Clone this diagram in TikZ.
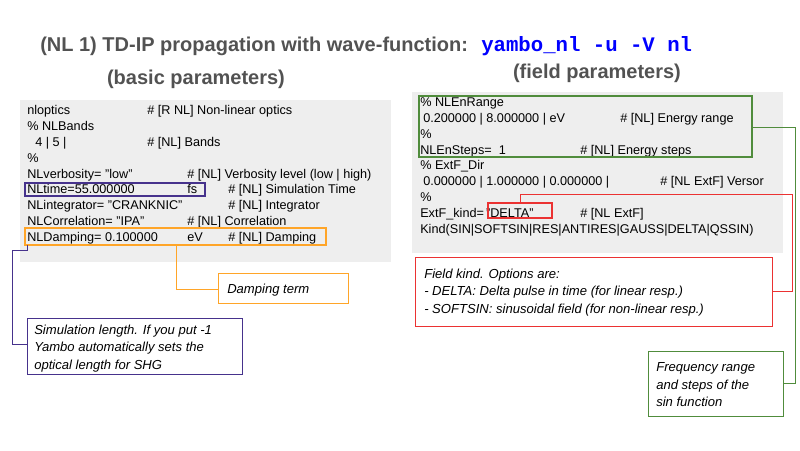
\documentclass[tikz,border=0pt]{standalone}
\usepackage{fontspec}
\setmainfont{Liberation Sans}
\setmonofont{Liberation Mono}
\begin{document}
\begin{tikzpicture}[x=0.75pt,y=-0.75pt,
  t/.style={anchor=base west,inner sep=0pt,font=\fontsize{9.5}{11}\selectfont},
  note/.style={anchor=base west,inner sep=0pt,font=\fontsize{9.8}{11}\selectfont\itshape},
  ttl/.style={inner sep=0pt,font=\fontsize{15}{17}\selectfont\bfseries,text=black!68},
  nbox/.style={draw,line width=0.8pt,fill=white}]
\definecolor{gbg}{RGB}{238,238,238}
\definecolor{pur}{RGB}{70,50,140}
\definecolor{org}{RGB}{255,165,40}
\definecolor{grn}{RGB}{80,140,60}
\definecolor{rd}{RGB}{235,50,50}
\useasboundingbox (0,0) rectangle (800,450);
% titles
\node[ttl,anchor=base west] (title) at (40,51) {(NL 1) TD-IP propagation with wave-function:};
\node[anchor=base west,inner sep=0pt,font=\fontsize{15.5}{17}\selectfont\ttfamily\bfseries,text=blue] (cmd) at (481,51) {yambo\_nl -u -V nl};
\node[ttl,anchor=base] (basic) at (196,84) {(basic parameters)};
\node[ttl,anchor=base] (field) at (597,78) {(field parameters)};
% left gray
\fill[gbg] (20,100) rectangle (391,262);
\def\b{4}
\node[t] (l1) at (27,110+\b) {nloptics};
\node[t] (l1c) at (147,110+\b) {\# [R NL] Non-linear optics};
\node[t] (l2) at (27,126+\b) {\% NLBands};
\node[t] (l3) at (35,142+\b) {4 | 5 |};
\node[t] (l3c) at (147,142+\b) {\# [NL] Bands};
\node[t] (l4) at (27,158+\b) {\%};
\node[t] (l5) at (27,174+\b) {NLverbosity= "low"};
\node[t] (l5c) at (187,174+\b) {\# [NL] Verbosity level (low | high)};
\node[t] (l6) at (27,189+\b) {NLtime=55.000000};
\node[t] (l6u) at (187,189+\b) {fs};
\node[t] (l6c) at (228,189+\b) {\# [NL] Simulation Time};
\node[t] (l7) at (27,205+\b) {NLintegrator= "CRANKNIC"};
\node[t] (l7c) at (228,205+\b) {\# [NL] Integrator};
\node[t] (l8) at (27,221+\b) {NLCorrelation= "IPA"};
\node[t] (l8c) at (187,221+\b) {\# [NL] Correlation};
\node[t] (l9) at (27,237+\b) {NLDamping= 0.100000};
\node[t] (l9u) at (187,237+\b) {eV};
\node[t] (l9c) at (228,237+\b) {\# [NL] Damping};
\draw[pur,line width=0.9pt] (25,183) rectangle (205,196);
\draw[org,line width=0.9pt] (25,228) rectangle (326,245);
\coordinate (obot) at (176,245);
\coordinate (ptop) at (27,245);
% damping note
\draw[org] (218,273) rectangle (348,303);
\node[note] (damp) at (227,293) {Damping term};
\draw[org] (obot) |- (218,289);
% simulation note
\draw[pur] (27,318) rectangle (242,374);
\node[note] (s1) at (34,334) {Simulation length. If you put -1};
\node[note] (s2) at (34,351) {Yambo automatically sets the};
\node[note] (s3) at (34,369) {optical length for SHG};
\draw[pur] (ptop) -- (27,250) -- (12,250) -- (12,344) -- (27,344);
% right gray
\fill[gbg] (412,92) rectangle (783,253);
\node[t] (r1) at (420,102+\b) {\% NLEnRange};
\node[t] (r2) at (423,118+\b) {0.200000 | 8.000000 | eV};
\node[t] (r2c) at (620,118+\b) {\# [NL] Energy range};
\node[t] (r3) at (420,134+\b) {\%};
\node[t] (r4) at (420,150+\b) {NLEnSteps=\ \ 1};
\node[t] (r4c) at (580,150+\b) {\# [NL] Energy steps};
\node[t] (r5) at (420,165+\b) {\% ExtF\_Dir};
\node[t] (r6) at (423,181+\b) {0.000000 | 1.000000 | 0.000000 |};
\node[t] (r6c) at (660,181+\b) {\# [NL ExtF] Versor};
\node[t] (r7) at (420,197+\b) {\%};
\node[t] (r8) at (420,213+\b) {ExtF\_kind=\,"DELTA"};
\node[t] (r8c) at (580,213+\b) {\# [NL ExtF]};
\node[t] (r9) at (420,229+\b) {Kind(SIN|SOFTSIN|RES|ANTIRES|GAUSS|DELTA|QSSIN)};
\draw[grn,line width=0.9pt] (419,96) rectangle (752,157);
\draw[rd,line width=0.9pt] (488,203) rectangle (552,218);
% red note
\draw[rd] (415,257) rectangle (772,326);
\node[note] (f1) at (424,278) {Field kind. Options are:};
\node[note] (f2) at (424,295) {- DELTA: Delta pulse in time (for linear resp.)};
\node[note] (f3) at (424,313) {- SOFTSIN: sinusoidal field (for non-linear resp.)};
\draw[rd] (520,203) -- (520,194) -- (792,194) -- (792,291) -- (772,291);
% green note
\draw[grn] (648,351) rectangle (783,416);
\node[note] (g1) at (656,371) {Frequency range};
\node[note] (g2) at (656,389) {and steps of the};
\node[note] (g3) at (656,406) {sin function};
\draw[grn] (752,127) -- (795,127) -- (795,383) -- (783,383);
\end{tikzpicture}
\end{document}
